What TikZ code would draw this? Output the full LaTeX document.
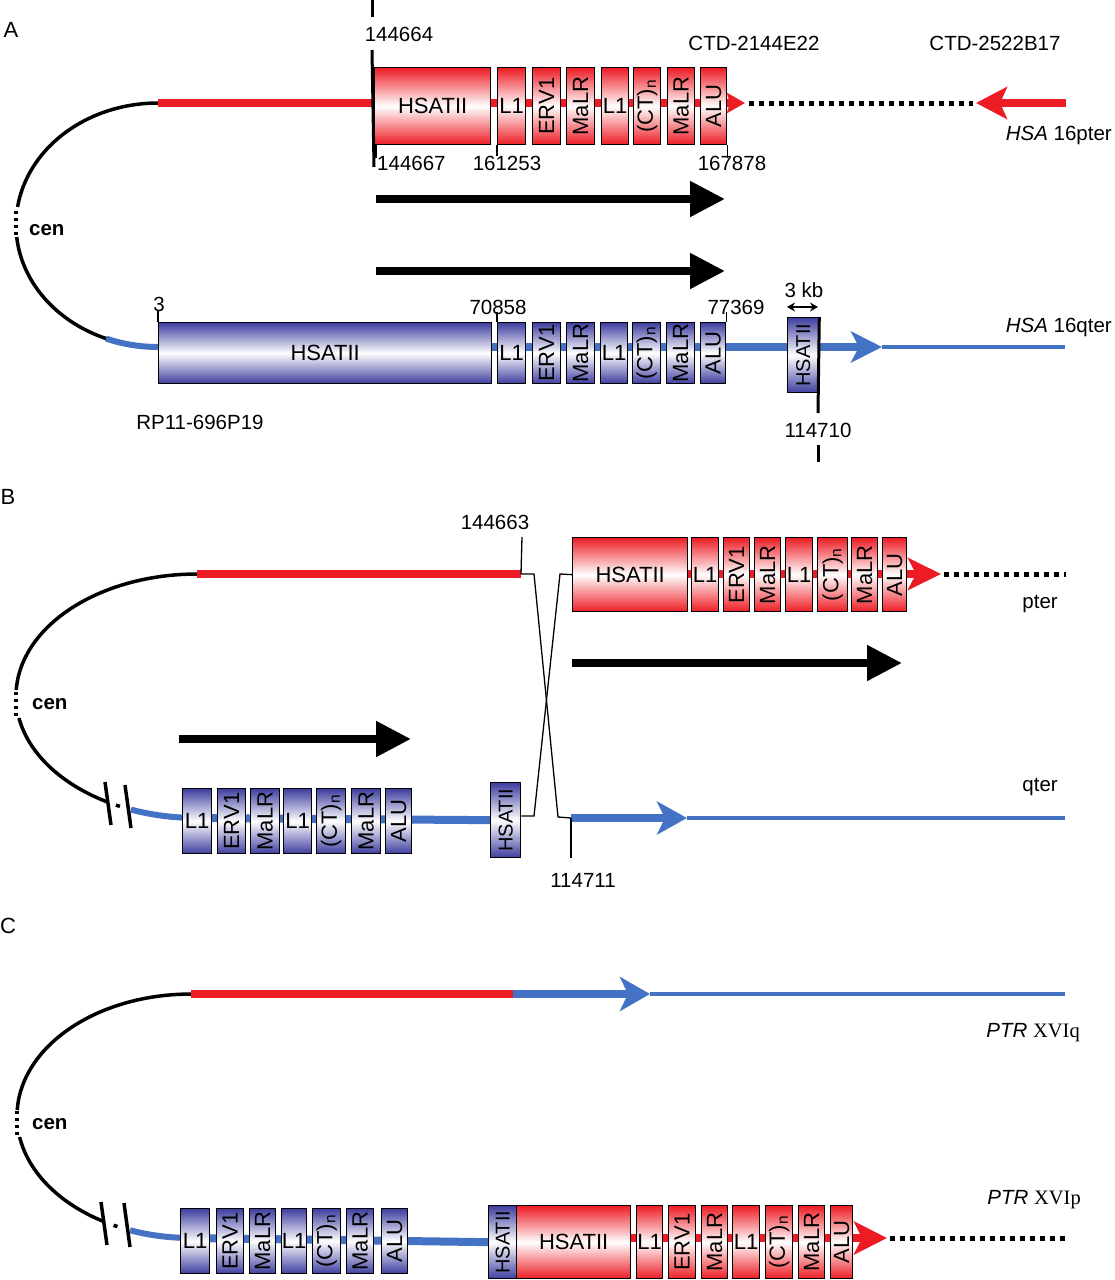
\documentclass[tikz,border=0pt]{standalone}
\usepackage{fontspec}
\setmainfont{Liberation Sans}
\newfontfamily\timesf{Liberation Serif}
\usepackage{graphicx}
\usetikzlibrary{arrows.meta}
\definecolor{lnred}{RGB}{237,28,36}
\definecolor{lnblue}{RGB}{68,114,196}
\definecolor{bxblue}{RGB}{62,62,160}
\definecolor{bxred}{RGB}{237,28,36}
\pgfdeclarelayer{bg}
\pgfsetlayers{bg,main}
\newcommand{\gbx}[7]{%
  \pgfmathsetmacro\gbxw{#4-#3}\pgfmathsetmacro\gbxh{#6-#5}%
  \node[#2,minimum width=\gbxw pt,minimum height=\gbxh pt] (#1) at (#3,#5) {#7};}
\newcommand{\rt}[1]{\rotatebox{90}{#1}}
\newcommand{\rth}{\rotatebox{90}{\fontsize{20}{23}\selectfont HSATII}}
\newcommand{\ctn}{\rotatebox{90}{(CT)\textsubscript{n}}}
\tikzset{
 txt/.style={font=\fontsize{20.5}{24}\selectfont, inner sep=0pt},
 pan/.style={font=\fontsize{22}{26}\selectfont, inner sep=0pt},
 centxt/.style={font=\fontsize{20.5}{24}\selectfont\bfseries, inner sep=0pt, anchor=west},
 rbx/.style={draw=black, line width=1.3pt, top color=bxred, bottom color=bxred, middle color=white, inner sep=0pt, anchor=north west, font=\fontsize{22}{26}\selectfont},
 bbx/.style={draw=black, line width=1.3pt, top color=bxblue, bottom color=bxblue, middle color=white, inner sep=0pt, anchor=north west, font=\fontsize{22}{26}\selectfont},
 thickred/.style={draw=lnred, line width=8pt},
 thickblue/.style={draw=lnblue, line width=8pt},
 thinblue/.style={draw=lnblue, line width=4.5pt},
 curveblue/.style={draw=lnblue, line width=6pt},
 chrom/.style={draw=black, line width=3.5pt},
 cendots/.style={draw=black, line width=3.5pt, dash pattern=on 3pt off 4pt},
 dotline/.style={draw=black, line width=5pt, dash pattern=on 5pt off 5pt},
 bigarrow/.style={draw=black, line width=8pt, -{Triangle[length=35pt,width=34pt]}},
 tickline/.style={draw=black, line width=1.3pt},
 barline/.style={draw=black, line width=3.5pt},
}
\begin{document}
\begin{tikzpicture}[x=1pt,y=-1pt]
\useasboundingbox (0,0) rectangle (1114,1280);
% ---------------- Panel A boxes
\gbx{aH}{rbx}{374}{490}{67}{144}{HSATII}
\gbx{aL1}{rbx}{497}{525}{67}{144}{L1}
\gbx{aE}{rbx}{532}{560}{67}{144}{\rt{ERV1}}
\gbx{aM1}{rbx}{566}{594}{67}{144}{\rt{MaLR}}
\gbx{aL2}{rbx}{601}{628}{67}{144}{L1}
\gbx{aCT}{rbx}{633}{660}{67}{144}{\ctn}
\gbx{aM2}{rbx}{667}{694}{67}{144}{\rt{MaLR}}
\gbx{aA}{rbx}{700}{726}{67}{144}{\rt{ALU}}
\gbx{bH}{bbx}{158}{491}{322}{383}{HSATII}
\gbx{bL1}{bbx}{497}{525}{322}{383}{L1}
\gbx{bE}{bbx}{532}{560}{322}{383}{\rt{ERV1}}
\gbx{bM1}{bbx}{566}{594}{322}{383}{\rt{MaLR}}
\gbx{bL2}{bbx}{600}{627}{322}{383}{L1}
\gbx{bCT}{bbx}{632}{660}{322}{383}{\ctn}
\gbx{bM2}{bbx}{666}{694}{322}{383}{\rt{MaLR}}
\gbx{bA}{bbx}{700}{725}{322}{383}{\rt{ALU}}
\gbx{bH2}{bbx}{787}{818}{317}{392}{\rth}
% ---------------- Panel B boxes
\gbx{cH}{rbx}{572}{687}{537}{611}{HSATII}
\gbx{cL1}{rbx}{691}{718}{537}{611}{L1}
\gbx{cE}{rbx}{723}{749}{537}{611}{\rt{ERV1}}
\gbx{cM1}{rbx}{754}{780}{537}{611}{\rt{MaLR}}
\gbx{cL2}{rbx}{785}{812}{537}{611}{L1}
\gbx{cCT}{rbx}{817}{847}{537}{611}{\ctn}
\gbx{cM2}{rbx}{851}{877}{537}{611}{\rt{MaLR}}
\gbx{cA}{rbx}{882}{906}{537}{611}{\rt{ALU}}
\gbx{dL1}{bbx}{182}{211}{788}{853}{L1}
\gbx{dE}{bbx}{217}{245}{788}{853}{\rt{ERV1}}
\gbx{dM1}{bbx}{250}{279}{788}{853}{\rt{MaLR}}
\gbx{dL2}{bbx}{283}{311}{788}{853}{L1}
\gbx{dCT}{bbx}{316}{345}{788}{853}{\ctn}
\gbx{dM2}{bbx}{351}{380}{788}{853}{\rt{MaLR}}
\gbx{dA}{bbx}{385}{411}{788}{853}{\rt{ALU}}
\gbx{dH}{bbx}{490}{520}{782}{857}{\rth}
% ---------------- Panel C boxes
\gbx{eL1}{bbx}{180}{209}{1208}{1273}{L1}
\gbx{eE}{bbx}{216}{243}{1208}{1273}{\rt{ERV1}}
\gbx{eM1}{bbx}{249}{275}{1208}{1273}{\rt{MaLR}}
\gbx{eL2}{bbx}{281}{306}{1208}{1273}{L1}
\gbx{eCT}{bbx}{312}{340}{1208}{1273}{\ctn}
\gbx{eM2}{bbx}{346}{373}{1208}{1273}{\rt{MaLR}}
\gbx{eA}{bbx}{381}{407}{1208}{1273}{\rt{ALU}}
\gbx{eH}{bbx}{488}{516}{1205}{1278}{\rth}
\gbx{fH}{rbx}{516}{630}{1205}{1278}{HSATII}
\gbx{fL1}{rbx}{636}{662}{1205}{1278}{L1}
\gbx{fE}{rbx}{668}{695}{1205}{1278}{\rt{ERV1}}
\gbx{fM1}{rbx}{701}{727}{1205}{1278}{\rt{MaLR}}
\gbx{fL2}{rbx}{732}{759}{1205}{1278}{L1}
\gbx{fCT}{rbx}{765}{792}{1205}{1278}{\ctn}
\gbx{fM2}{rbx}{798}{824}{1205}{1278}{\rt{MaLR}}
\gbx{fA}{rbx}{830}{852}{1205}{1278}{\rt{ALU}}
% ---------------- Text labels
\node[pan] (lA) at (11,30) {A};
\node[pan] (lB) at (8,497) {B};
\node[pan] (lC) at (8,926) {C};
\node[txt] (t144664) at (399,34) {144664};
\node[txt,anchor=west] (t144667) at (377,163) {144667};
\node[txt] (t161253) at (507,163) {161253};
\node[txt] (t167878) at (732,163) {167878};
\node[txt] (ctd1) at (754,43) {CTD-2144E22};
\node[txt] (ctd2) at (995,43) {CTD-2522B17};
\node[txt,anchor=east] (hsap) at (1112,135) {{\itshape HSA} 16pter};
\node[txt,anchor=east] (hsaq) at (1112,327) {{\itshape HSA} 16qter};
\node[txt] (t3) at (159,304) {3};
\node[txt] (t70858) at (498,307) {70858};
\node[txt] (t77369) at (736,307) {77369};
\node[txt] (kb) at (804,290) {3 kb};
\node[txt] (rp) at (200,422) {RP11-696P19};
\node[txt] (t114710) at (818,430) {114710};
\node[centxt] (cenA) at (29,230) {cen};
\node[txt] (t144663) at (495,522) {144663};
\node[txt] (t114711) at (583,880) {114711};
\node[txt,anchor=east] (pter) at (1058,604) {pter};
\node[txt,anchor=east] (qter) at (1058,787) {qter};
\node[centxt] (cenB) at (32,704) {cen};
\node[centxt] (cenC) at (32,1124) {cen};
\node[txt,anchor=east] (ptrq) at (1080,1033) {{\itshape PTR} {\timesf XVIq}};
\node[txt,anchor=east] (ptrp) at (1081,1200) {{\itshape PTR} {\timesf XVIp}};
% ---------------- Coordinates
\coordinate (aTop) at (158,103);
\coordinate (aRedTip) at (745,103);
\coordinate (aDotS) at (749,103);
\coordinate (aDotE) at (973,103);
\coordinate (aArTip) at (976,103);
\coordinate (aArTail) at (1066,103);
\coordinate (aBot) at (158,347);
\coordinate (aBlueTip) at (882,347);
\coordinate (aBlueEnd) at (1065,347);
\coordinate (bTop) at (197,574);
\coordinate (bRedEnd) at (521,574);
\coordinate (bBot) at (197,818);
\coordinate (bRedS) at (572,574);
\coordinate (bRedTip) at (941,574);
\coordinate (bDotS) at (944,574);
\coordinate (bDotE) at (1066,574);
\coordinate (bBlueS) at (571,818);
\coordinate (bBlueTip) at (687,818);
\coordinate (bBlueEnd) at (1065,818);
\coordinate (cTop) at (191,994);
\coordinate (cMid) at (513,994);
\coordinate (cTopTip) at (650,994);
\coordinate (cTopEnd) at (1065,994);
\coordinate (cBot) at (191,1238);
\coordinate (cRedS) at (516,1238);
\coordinate (cRedTip) at (887,1238);
\coordinate (cDotS) at (890,1238);
\coordinate (cDotE) at (1065,1238);
\begin{pgfonlayer}{bg}
% ---- Panel A
\draw[chrom] plot[domain=270:188.5,samples=40,variable=\t] ({158+142*cos(\t)},{225+122*sin(\t)});
\draw[chrom] plot[domain=174.4:111,samples=40,variable=\t] ({158+142*cos(\t)},{225+122*sin(\t)});
\draw[curveblue] plot[domain=111.5:90,samples=20,variable=\t] ({158+142*cos(\t)},{225+122*sin(\t)});
\draw[cendots] (16,211) -- (16,237);
\draw[thickred,-{Stealth[length=18pt,width=20pt,inset=3pt]}] (aTop) -- (aRedTip);
\draw[dotline] (aDotS) -- (aDotE);
\draw[thickred,-{Stealth[length=31pt,width=32pt,inset=7pt]}] (aArTail) -- (aArTip);
\draw[thickblue,-{Stealth[length=31pt,width=31pt,inset=8pt]}] (aBot) -- (aBlueTip);
\draw[thinblue] (aBlueTip) -- (aBlueEnd);
% ---- Panel B
\draw[chrom] plot[domain=270:182.8,samples=40,variable=\t] ({197+181*cos(\t)},{696+122*sin(\t)});
\draw[chrom] plot[domain=169.6:119.8,samples=40,variable=\t] ({197+181*cos(\t)},{696+122*sin(\t)});
\draw[chrom] plot[domain=116.6:115.2,samples=4,variable=\t] ({197+181*cos(\t)},{696+122*sin(\t)});
\draw[curveblue] plot[domain=111.4:90,samples=20,variable=\t] ({197+181*cos(\t)},{696+122*sin(\t)});
\draw[cendots] (16,692) -- (16,718);
\draw[thickred] (bTop) -- (bRedEnd);
\draw[thickblue] (bBot) -- (dH.west);
\draw[thickred,-{Stealth[length=33pt,width=32pt,inset=8pt]}] (bRedS) -- (bRedTip);
\draw[dotline] (bDotS) -- (bDotE);
\draw[thickblue,-{Stealth[length=30pt,width=33pt,inset=8pt]}] (bBlueS) -- (bBlueTip);
\draw[thinblue] (bBlueTip) -- (bBlueEnd);
% ---- Panel C
\draw[chrom] plot[domain=270:182.8,samples=40,variable=\t] ({191+174*cos(\t)},{1116+122*sin(\t)});
\draw[chrom] plot[domain=170.1:120,samples=40,variable=\t] ({191+174*cos(\t)},{1116+122*sin(\t)});
\draw[chrom] plot[domain=116.4:115,samples=4,variable=\t] ({191+174*cos(\t)},{1116+122*sin(\t)});
\draw[curveblue] plot[domain=110.5:90,samples=20,variable=\t] ({191+174*cos(\t)},{1116+122*sin(\t)});
\draw[cendots] (17,1111) -- (17,1137);
\draw[thickred] (cTop) -- (cMid);
\draw[thickblue,-{Stealth[length=30pt,width=34pt,inset=8pt]}] (cMid) -- (cTopTip);
\draw[thinblue] (cTopTip) -- (cTopEnd);
\draw[thickblue] (cBot) -- (eH.west);
\draw[thickred,-{Stealth[length=33pt,width=33pt,inset=8pt]}] (cRedS) -- (cRedTip);
\draw[dotline] (cDotS) -- (cDotE);
\end{pgfonlayer}
% ---------------- foreground lines
% Panel A markers
\draw[line width=3pt] (372,0) -- (372,17);
\draw[line width=3pt] (372,50) -- (aH.south west |- 0,167);
\draw[tickline] (aH.south west) ++(2,0) -- ++(0,13);
\draw[tickline] (aL1.south west) -- ++(0,11);
\draw[tickline] (aA.south east) -- ++(0,13);
\draw[tickline] (bH.north west) -- ++(0,-11);
\draw[tickline] (bL1.north west) -- ++(0,-10);
\draw[tickline] (bA.north east) -- ++(0,-10);
\draw[line width=1.5pt,{Stealth[length=8pt,width=9pt]}-{Stealth[length=8pt,width=9pt]}] (bH2.north west) ++(0,-10) -- ++(31,0);
\draw[line width=3pt] (bH2.north east) -- (818,413);
\draw[line width=3pt] (818,445) -- (818,462);
\draw[bigarrow] (376,199) -- (725,199);
\draw[bigarrow] (376,271) -- (725,271);
% Panel B markers
\draw[tickline] (522,537) -- (bRedEnd);
\draw[tickline] (bRedEnd) -- (534,574) -- (558,817) -- (bBlueS);
\draw[tickline] (dH.east |- 0,816) -- (534,816) -- (560,574) -- (cH.west);
\draw[tickline] (bBlueS) -- (571,858);
\draw[barline] (105,782) -- (111,825);
\draw[barline] (125,785) -- (131,828);
\draw[bigarrow] (572,663) -- (902,663);
\draw[bigarrow] (179,739) -- (411,739);
% Panel C markers
\draw[barline] (101,1202) -- (107,1245);
\draw[barline] (124,1203) -- (130,1247);
\end{tikzpicture}
\end{document}
